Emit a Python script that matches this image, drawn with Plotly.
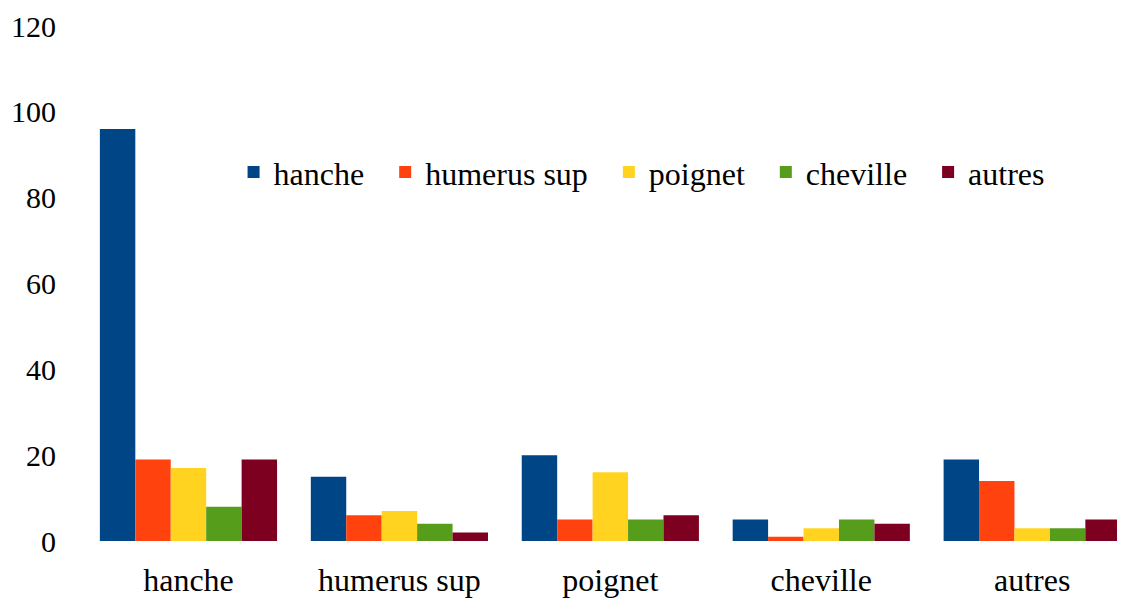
import plotly.graph_objects as go

categories = ["hanche", "humerus sup", "poignet", "cheville", "autres"]
series_names = ["hanche", "humerus sup", "poignet", "cheville", "autres"]
v_hanche = [96, 15, 20, 5, 19]
v_humerus = [19, 6, 5, 1, 14]
v_poignet = [17, 7, 16, 3, 3]
v_cheville = [8, 4, 5, 5, 3]
v_autres = [19, 2, 6, 4, 5]
series_values = [v_hanche, v_humerus, v_poignet, v_cheville, v_autres]
colors = ["#004586", "#FF420E", "#FFD320", "#579D1C", "#7E0021"]

FONT = "Liberation Serif, Times New Roman, DejaVu Serif, serif"
PAD = "\u00a0\u00a0"  # extra spacing between legend entries

fig = go.Figure()
for name, vals, col in zip(series_names, series_values, colors):
    fig.add_trace(go.Bar(
        x=categories, y=vals, name=name + PAD,
        marker=dict(color=col, line=dict(width=0)),
        hovertemplate=name + ": %{y}<extra></extra>",
    ))

fig.update_layout(
    width=1117, height=591,
    margin=dict(l=75, r=0, t=18, b=58, autoexpand=False),
    paper_bgcolor="white", plot_bgcolor="white",
    barmode="group", bargap=0.16, bargroupgap=0,
    font=dict(family=FONT, size=32, color="black"),
    legend=dict(
        orientation="h", x=0.1445, y=0.716, xanchor="left", yanchor="middle",
        font=dict(family=FONT, size=32), bgcolor="rgba(0,0,0,0)",
        itemwidth=30,
    ),
    xaxis=dict(
        type="category", range=[-0.5, 4.44],
        showgrid=False, showline=False, zeroline=False,
        ticks="", tickfont=dict(family=FONT, size=32),
        ticklabelstandoff=17,
    ),
    yaxis=dict(
        range=[0, 120], dtick=20, showgrid=False, showline=False,
        zeroline=False, ticks="", ticklabelstandoff=26,
        tickfont=dict(family=FONT, size=30),
    ),
)

fig.write_html("out.html")
